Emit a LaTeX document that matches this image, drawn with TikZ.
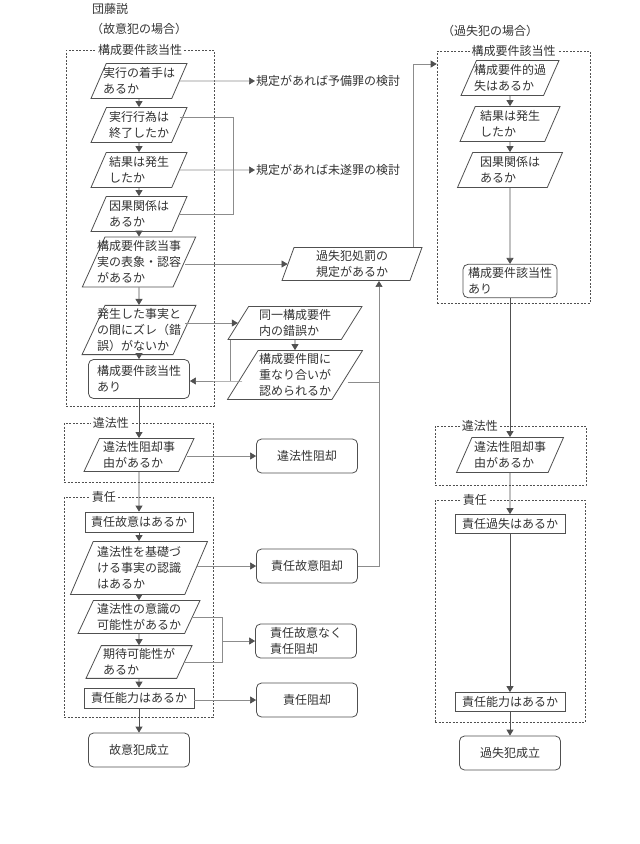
\documentclass[tikz,border=0pt]{standalone}
\usepackage{fontspec}
\setmainfont{Noto Sans CJK JP}
\usepackage{tikz}
\usetikzlibrary{
  arrows.meta,%
  % parallelogram boxes
  shapes.geometric,%
  positioning,
  calc
}
\definecolor{ink}{HTML}{333333}
\definecolor{edge}{HTML}{505050}
\definecolor{wirec}{HTML}{8C8C8C}
\tikzset{>={Triangle[width=7pt,length=6pt]}}
\tikzset{font=\fontsize{12}{16}\selectfont}
\tikzset{
  cond/.style={trapezium, trapezium left angle=65, trapezium right angle=115,
    trapezium stretches body, draw=edge, line width=0.8pt, text=ink,
    align=left, inner xsep=-8pt, inner ysep=3pt, minimum width=96, minimum height=35},
  chk/.style={rectangle, draw=edge, line width=0.8pt, text=ink,
    minimum width=108, minimum height=20, inner sep=1pt},
  res/.style={rectangle, rounded corners=5pt, draw=edge, line width=0.8pt, text=ink,
    align=left, minimum width=101, minimum height=34},
  zone/.style={rectangle, draw=edge, dash pattern=on 2pt off 1.5pt, line width=0.6pt},
  zonename/.style={fill=white, text=ink, inner sep=2pt},
  note/.style={text=ink, inner sep=0pt},
  flow/.style={->, draw=edge, line width=0.8pt},
  link/.style={-{Triangle[width=7pt,length=6pt,color=edge]}, draw=wirec, line width=0.6pt},
  wire/.style={draw=wirec, line width=0.6pt},
}

\begin{document}
\begin{tikzpicture}[x=1pt, y=-1pt]
  \useasboundingbox (0,0) rectangle (640,844);
  \fill[white] (0,0) rectangle (640,844);
  % dashed frames
  \node[zone, minimum width=148, minimum height=356] (z1) at (140,228) {};
  \node[zone, minimum width=149, minimum height=59] (z2) at (138.5,452.5) {};
  \node[zone, minimum width=149, minimum height=220] (z3) at (138.5,607) {};
  \node[zone, minimum width=153, minimum height=252] (z4) at (513.5,177) {};
  \node[zone, minimum width=151, minimum height=59] (z5) at (510.5,455.5) {};
  \node[zone, minimum width=150, minimum height=222] (z6) at (510,611) {};
  \node[zonename] (n1) at (z1.north) {構成要件該当性};
  \node[zonename, right=27pt of z2.north west] (n2) {違法性};
  \node[zonename, right=26pt of z3.north west] (n3) {責任};
  \node[zonename] (n4) at (z4.north) {構成要件該当性};
  \node[zonename, right=25pt of z5.north west] (n5) {違法性};
  \node[zonename, right=26pt of z6.north west] (n6) {責任};

  \node[note] (t1) at (110,9) {団藤説};
  \node[note] (t2) at (139,29) {（故意犯の場合）};
  \node[note] (t3) at (490,31) {（過失犯の場合）};

  % left column
  \node[cond] (a1) at (139,81) {実行の着手は\\あるか};
  \node[cond] (a2) at (139,125) {実行行為は\\終了したか};
  \node[cond] (a3) at (139,170) {結果は発生\\したか};
  \node[cond] (a4) at (139,214) {因果関係は\\あるか};
  \node[cond, minimum height=50, minimum width=108] (a5) at (139,262) {構成要件該当事\\実の表象・認容\\があるか};
  \node[cond, minimum height=47, minimum width=112] (a6) at (139,330) {発生した事実と\\の間にズレ（錯\\誤）がないか};
  \node[res, minimum height=39] (a7) at (139,379) {構成要件該当性\\あり};
  \node[cond, minimum height=33, minimum width=110] (b1) at (139,455) {違法性阻却事\\由があるか};
  \node[chk] (c1) at (139,522) {責任故意はあるか};
  \node[cond, minimum height=53, minimum width=137] (c2) at (139,568) {違法性を基礎づ\\ける事実の認識\\はあるか};
  \node[cond, minimum height=33, minimum width=122] (c3) at (139,617) {違法性の意識の\\可能性があるか};
  \node[cond, minimum height=30, minimum width=106] (c4) at (139,662) {期待可能性が\\あるか};
  \node[chk, minimum width=110] (c5) at (139,698) {責任能力はあるか};
  \node[res] (d1) at (139,750) {故意犯成立};

  % middle column
  \node[note, anchor=west] (m1) at (256,81) {規定があれば予備罪の検討};
  \node[note, anchor=west] (m2) at (256,170) {規定があれば未遂罪の検討};
  \node[cond, minimum height=32, minimum width=140, trapezium left angle=70, trapezium right angle=110] (k1) at (352,264) {過失犯処罰の\\規定があるか};
  \node[cond, minimum height=32, minimum width=134, trapezium left angle=58, trapezium right angle=122] (s1) at (295,323) {同一構成要件\\内の錯誤か};
  \node[cond, minimum height=46, minimum width=135, trapezium left angle=58, trapezium right angle=122] (s2) at (295,375) {構成要件間に\\重なり合いが\\認められるか};
  \node[res] (r1) at (307,456) {違法性阻却};
  \node[res] (r2) at (307,566) {責任故意阻却};
  \node[res] (r3) at (306,641) {責任故意なく\\責任阻却};
  \node[res] (r4) at (307,700) {責任阻却};

  % right column
  \node[cond, minimum width=98] (e1) at (510,78) {構成要件的過\\失はあるか};
  \node[cond, minimum width=100] (e2) at (510,124) {結果は発生\\したか};
  \node[cond, minimum width=105] (e3) at (510,170) {因果関係は\\あるか};
  \node[res, minimum width=94, minimum height=33] (e4) at (510,281) {構成要件該当性\\あり};
  \node[cond, minimum width=107] (f1) at (510,455) {違法性阻却事\\由があるか};
  \node[chk, minimum width=110, minimum height=19] (g1) at (510,524) {責任過失はあるか};
  \node[chk, minimum width=110, minimum height=19] (g2) at (510,702) {責任能力はあるか};
  \node[res] (h1) at (510,753) {過失犯成立};

  % main flow
  \draw[flow] (a1) -- (a2);
  \draw[flow] (a2) -- (a3);
  \draw[flow] (a3) -- (a4);
  \draw[flow] (a4) -- (a5);
  \draw[flow] (a5) -- (a6);
  \draw[flow] (a6) -- (a7);
  \draw[flow] (a7) -- (b1);
  \draw[flow] (b1) -- (c1);
  \draw[flow] (c1) -- (c2);
  \draw[flow] (c2) -- (c3);
  \draw[flow] (c3) -- (c4);
  \draw[flow] (c4) -- (c5);
  \draw[flow] (c5) -- (d1);
  \draw[flow] (e1) -- (e2);
  \draw[flow] (e2) -- (e3);
  \draw[flow] (e3) -- (e4);
  \draw[flow] (e4) -- (f1);
  \draw[flow] (f1) -- (g1);
  \draw[flow] (g1) -- (g2);
  \draw[flow] (g2) -- (h1);
  \draw[flow] (s1) -- (s2);

  % side branches
  \coordinate (j2) at (233,170);
  \coordinate (j3) at (413,64);
  \coordinate (j4) at (230,381);
  \coordinate (j5) at (379,566);
  \coordinate (j6) at (222,641);
  \draw[link, shorten >=1pt] (a1) -- (m1);
  \draw[link, shorten >=1pt] (a3) -- (m2);
  \draw[wire] ([yshift=8]a2.east) -| (j2 |- a4.east) -- (a4.east);
  \draw[link] (a5.east |- k1.west) -- (k1.west);
  \draw[link] (k1.north -| j3) -- (j3) -- (z4.west |- j3);
  \draw[link] (a6.east |- s1.west) -- (s1.west);
  \draw[wire] (s1.south -| j4) -- (j4);
  \draw[link] (j4 -| s2.west) -- (j4) -- (j4 -| a7.east);
  \draw[wire] ([yshift=-7]s2.east) -- ([yshift=-7]s2.east -| j5);
  \draw[link] (r2.east) -- (j5) -- (k1.south -| j5);
  \draw[link] (b1.east |- r1.west) -- (r1.west);
  \draw[link] (c2.east |- r2.west) -- (r2.west);
  \draw[wire] (c3.east) -| (j6 |- c4.east) -- (c4.east);
  \draw[link] (j6) -- (r3.west);
  \draw[link] (c5.east |- r4.west) -- (r4.west);
\end{tikzpicture}
\end{document}
